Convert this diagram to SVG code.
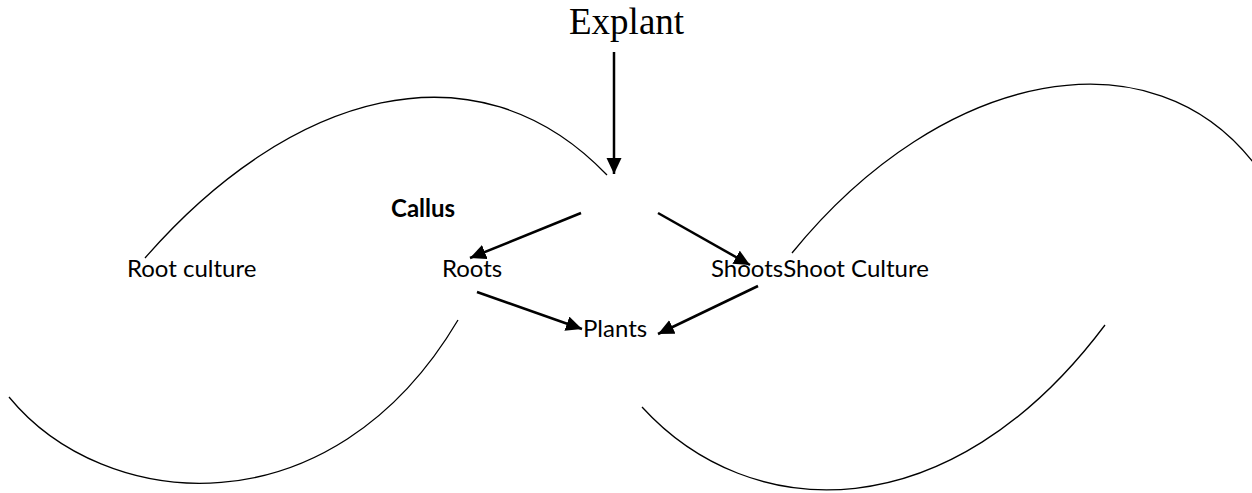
<svg xmlns="http://www.w3.org/2000/svg" width="1252" height="493" viewBox="0 0 1252 493">
  <style>
    .lbl { font-family: Lato, "Liberation Sans", sans-serif; font-size: 24px; fill: #000; }
    .bold { font-weight: bold; }
    .serif { font-family: "Liberation Serif", serif; font-size: 37px; fill: #000; }
    .arc { fill: none; stroke: #000; stroke-width: 1.3; }
    .arrow { fill: none; stroke: #000; stroke-width: 2.5; marker-end: url(#head); }
  </style>
  <defs>
    <marker id="head" markerUnits="userSpaceOnUse" markerWidth="18" markerHeight="16" refX="16" refY="7.5" orient="auto">
      <path d="M0,0 L16,7.5 L0,15 z" fill="#000"/>
    </marker>
  </defs>
  <rect width="1252" height="493" fill="#fff"/>

  <g id="arcs">
    <path class="arc" d="M145,258 C289.8,92.1 475.9,38.2 607,175"/>
    <path class="arc" d="M9,397 C103.5,512.5 330.5,535 458,320"/>
    <path class="arc" d="M792,253 C943.4,66.8 1154,30 1256,166"/>
    <path class="arc" d="M642,407 C749.8,525.1 949,533 1105,325"/>
  </g>

  <g id="connectors">
    <line class="arrow" x1="614" y1="52" x2="614" y2="174"/>
    <line class="arrow" x1="581" y1="213" x2="470" y2="258"/>
    <line class="arrow" x1="658" y1="213" x2="750" y2="265"/>
    <line class="arrow" x1="477" y1="292" x2="582" y2="329"/>
    <line class="arrow" x1="758" y1="286" x2="658" y2="334"/>
  </g>

  <g id="explant"><text class="serif" x="569" y="34">Explant</text></g>
  <g id="callus"><text class="lbl bold" x="391" y="217">Callus</text></g>
  <g id="root-culture"><text class="lbl" x="127" y="277">Root culture</text></g>
  <g id="roots"><text class="lbl" x="442" y="277">Roots</text></g>
  <g id="shoots"><text class="lbl" x="711" y="277">ShootsShoot Culture</text></g>
  <g id="plants"><text class="lbl" x="583" y="337">Plants</text></g>
</svg>
